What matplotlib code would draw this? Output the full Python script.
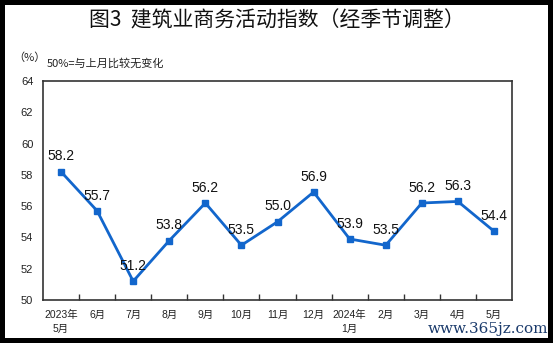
import numpy as np
import matplotlib.pyplot as plt
from matplotlib.patches import Rectangle

plt.rcParams['font.family'] = ['Liberation Sans', 'Noto Sans CJK SC', 'DejaVu Sans']

# 建筑业商务活动指数（经季节调整）
months = ['2023年\n5月', '6月', '7月', '8月', '9月', '10月', '11月', '12月',
          '2024年\n1月', '2月', '3月', '4月', '5月']
index_values = [58.2, 55.7, 51.2, 53.8, 56.2, 53.5, 55.0, 56.9, 53.9, 53.5, 56.2, 56.3, 54.4]
y_ticks = [50, 52, 54, 56, 58, 60, 62, 64]

line_color = '#1266cc'

fig = plt.figure(figsize=(5.53, 3.43), dpi=100)
fig.patch.set_facecolor('black')
fig.add_artist(Rectangle((5 / 553, 5 / 343), 543 / 553, 333 / 343,
                         transform=fig.transFigure, facecolor='white',
                         edgecolor='none', zorder=-10))

ax = fig.add_axes([43 / 553, 43 / 343, 469 / 553, 219 / 343])
x = np.arange(len(months))
ax.plot(x, index_values, color=line_color, lw=2, marker='s', ms=4.5,
        markerfacecolor=line_color, markeredgecolor=line_color)

for xi, v in zip(x, index_values):
    ax.annotate(f'{v:.1f}', (xi, v), xytext=(0, 6), textcoords='offset points',
                ha='center', va='bottom', fontsize=10, color='#111111')

ax.set_xlim(-0.5, len(months) - 0.5)
ax.set_ylim(50, 64)
ax.set_yticks(y_ticks)
ax.tick_params(axis='y', length=0, pad=7, labelsize=8, labelcolor='#222222')

ax.set_xticks(x)
ax.set_xticklabels(months, fontsize=7.5, color='#222222', linespacing=1.5, va='top')
ax.set_xticks(np.arange(0.5, len(months) - 1, 1), minor=True)
ax.tick_params(axis='x', which='major', length=0, pad=7)
ax.tick_params(axis='x', which='minor', direction='in', length=4, width=1, color='#333333')

for s in ax.spines.values():
    s.set_color('#333333')
    s.set_linewidth(1.2)

fig.text(0.5, 1 - 20 / 343, '图3  建筑业商务活动指数（经季节调整）', ha='center', va='center',
         fontsize=15, fontweight='medium', family=['Noto Sans CJK SC'], color='#111111')
fig.text(13 / 553, 1 - 58 / 343, '（%）', ha='left', va='center', fontsize=8,
         family=['Noto Sans CJK SC'], color='#222222')
fig.text(47 / 553, 1 - 63 / 343, '50%=与上月比较无变化', ha='left', va='center', fontsize=8,
         family=['Noto Sans CJK SC'], color='#222222')
fig.text(548 / 553, 1 - 329 / 343, 'www.365jz.com', ha='right', va='center', fontsize=11,
         family=['DejaVu Serif'], color='#1a3a6b')

fig.savefig('out.png', dpi=100, facecolor=fig.get_facecolor())
